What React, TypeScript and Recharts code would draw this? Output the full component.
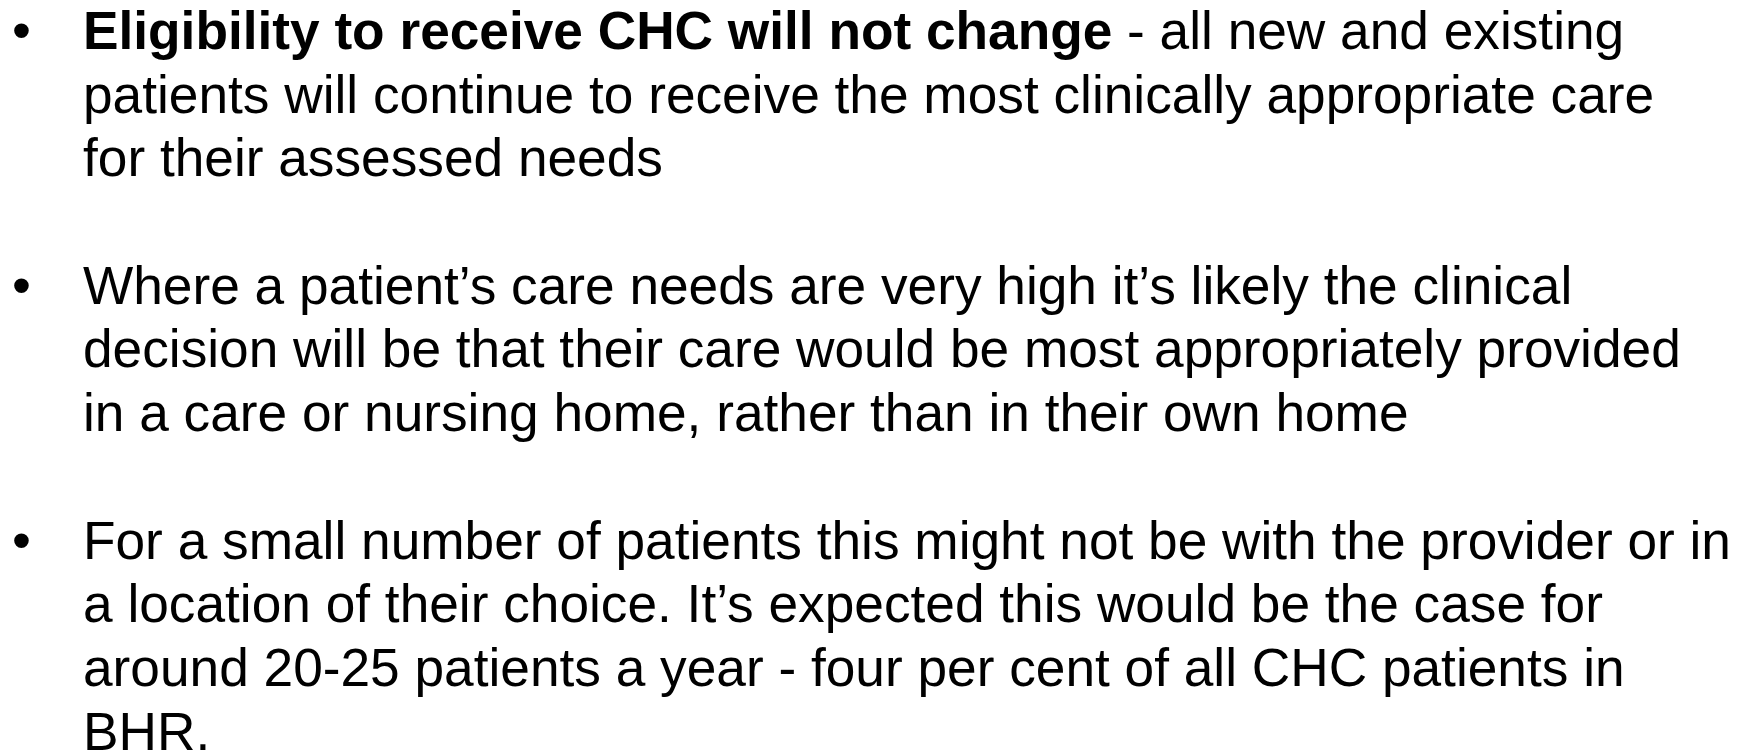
import React from "react";
import { Surface, Layer } from "recharts";

const WIDTH = 1750;
const HEIGHT = 752;

const boldLead = "Eligibility to receive CHC will not change";
const para1Lines = [
  " - all new and existing",
  "patients will continue to receive the most clinically appropriate care",
  "for their assessed needs",
];
const para2Lines = [
  "Where a patient\u2019s care needs are very high it\u2019s likely the clinical",
  "decision will be that their care would be most appropriately provided",
  "in a care or nursing home, rather than in their own home",
];
const para3Lines = [
  "For a small number of patients this might not be with the provider or in",
  "a location of their choice. It\u2019s expected this would be the case for",
  "around 20-25 patients a year - four per cent of all CHC patients in",
  "BHR.",
];
const paragraphStartLine = [0, 4, 8];

const FONT = "'Liberation Sans', Arial, Helvetica, sans-serif";
const FONT_SIZE = 54;
const FIRST_BASELINE = 49;
const LINE_PITCH = 63.7;
const TEXT_X = 83;
const BULLET_X = 12;
const SCALE_X = 0.986;

export default function App() {
  const paragraphs = [para1Lines, para2Lines, para3Lines];
  return (
    <div style={{ position: "absolute", left: 0, top: 0, width: WIDTH, height: HEIGHT, background: "#fff" }}>
      <Surface width={WIDTH} height={HEIGHT}>
        <rect x={0} y={0} width={WIDTH} height={HEIGHT} fill="#ffffff" />
        {paragraphs.map((lines, pi) => {
          const start = paragraphStartLine[pi];
          return (
            <Layer key={pi}>
              <text
                x={BULLET_X}
                y={FIRST_BASELINE + start * LINE_PITCH}
                fontFamily={FONT}
                fontSize={FONT_SIZE}
                fill="#000"
              >
                {"\u2022"}
              </text>
              <g transform={`translate(${TEXT_X},0) scale(${SCALE_X},1)`}>
                {lines.map((line, li) => (
                  <text
                    key={li}
                    x={0}
                    y={FIRST_BASELINE + (start + li) * LINE_PITCH}
                    fontFamily={FONT}
                    fontSize={FONT_SIZE}
                    fill="#000"
                    style={{ whiteSpace: "pre" }}
                  >
                    {pi === 0 && li === 0 ? (
                      <>
                        <tspan fontWeight="bold">{boldLead}</tspan>
                        <tspan>{line}</tspan>
                      </>
                    ) : (
                      line
                    )}
                  </text>
                ))}
              </g>
            </Layer>
          );
        })}
      </Surface>
    </div>
  );
}
